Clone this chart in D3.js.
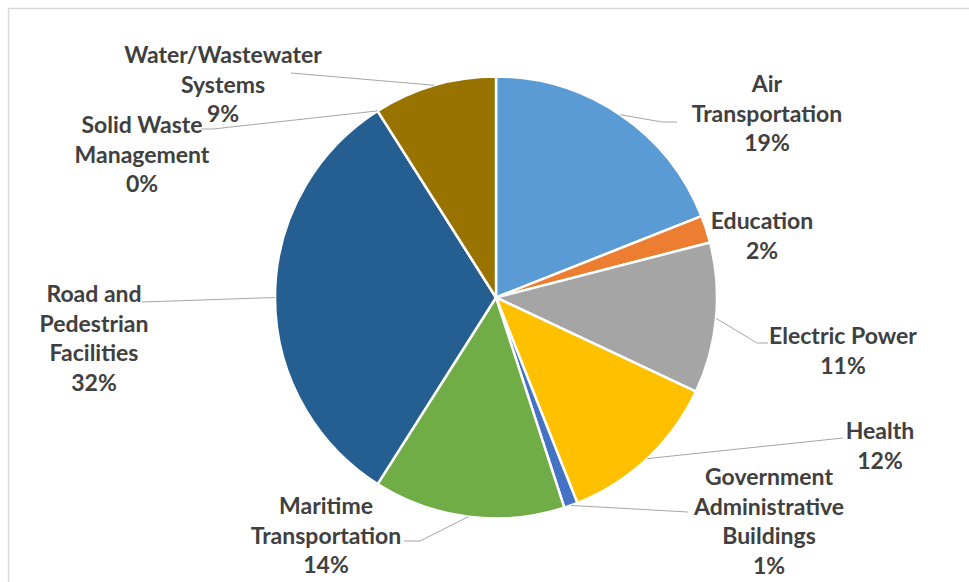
<!DOCTYPE html>
<html>
<head>
<meta charset="utf-8">
<script src="https://cdn.jsdelivr.net/npm/d3@7"></script>
<style>
  html, body { margin: 0; padding: 0; background: #ffffff; }
  svg { display: block; }
</style>
</head>
<body>
<svg id="chart" width="969" height="582"></svg>
<script>
// Share of funding by infrastructure sector (percent)
const categories = [
  "Air Transportation",
  "Education",
  "Electric Power",
  "Health",
  "Government Administrative Buildings",
  "Maritime Transportation",
  "Road and Pedestrian Facilities",
  "Solid Waste Management",
  "Water/Wastewater Systems"
];
const values = [19, 2, 11, 12, 1, 14, 32, 0, 9];
const colors = ["#5B9BD5", "#ED7D31", "#A5A5A5", "#FFC000", "#4472C4",
                "#70AD47", "#255E91", "#9E480E", "#997300"];

// How each category name wraps onto lines in its label
const labelLines = [
  ["Air", "Transportation"],
  ["Education"],
  ["Electric Power"],
  ["Health"],
  ["Government", "Administrative", "Buildings"],
  ["Maritime", "Transportation"],
  ["Road and", "Pedestrian", "Facilities"],
  ["Solid Waste", "Management"],
  ["Water/Wastewater", "Systems"]
];

// Label placement: centre x and first-line centre y, plus leader path toward the text
const labelLayout = [
  { x: 767, y: 84,  leader: [[662, 122], [677, 122]] },
  { x: 762, y: 221, leader: null },
  { x: 843, y: 336, leader: [[757, 343], [768, 343]] },
  { x: 880, y: 431, leader: [[843, 438]] },
  { x: 769, y: 477, leader: [[688, 512]] },
  { x: 326, y: 506, leader: [[420, 541], [404, 541]] },
  { x: 94,  y: 294, leader: [[142, 302]] },
  { x: 142, y: 125, leader: [[213, 129], [201, 129]] },
  { x: 223, y: 55,  leader: [[291, 73]] }
];

const cx = 496, cy = 297.5, radius = 221;
const lineHeight = 29.5;

const svg = d3.select("#chart");

// Chart area frame
svg.append("rect")
  .attr("x", 8.5).attr("y", 8.5)
  .attr("width", 1000).attr("height", 700)
  .attr("fill", "#ffffff")
  .attr("stroke", "#d9d9d9")
  .attr("stroke-width", 1.5);

const pie = d3.pie().sort(null).value(d => d)(values);
const arc = d3.arc().innerRadius(0).outerRadius(radius);

const g = svg.append("g").attr("transform", `translate(${cx},${cy})`);

g.selectAll("path.slice")
  .data(pie)
  .join("path")
  .attr("class", "slice")
  .attr("d", arc)
  .attr("fill", (d, i) => colors[i])
  .attr("stroke", "#ffffff")
  .attr("stroke-width", 2.5)
  .attr("stroke-linejoin", "round");

// Leader lines from each slice's outer-edge midpoint to its label
const line = d3.line();
pie.forEach((d, i) => {
  const lay = labelLayout[i];
  if (!lay.leader) return;
  const mid = (d.startAngle + d.endAngle) / 2;
  const start = [cx + radius * Math.sin(mid), cy - radius * Math.cos(mid)];
  svg.append("path")
    .attr("d", line([start, ...lay.leader]))
    .attr("fill", "none")
    .attr("stroke", "#a6a6a6")
    .attr("stroke-width", 1);
});

// Data labels: category name followed by the percentage
const fmt = d3.format(".0f");
pie.forEach((d, i) => {
  const lay = labelLayout[i];
  const lines = labelLines[i].concat([fmt(values[i]) + "%"]);
  const t = svg.append("text")
    .attr("text-anchor", "middle")
    .attr("font-family", "Lato, 'Open Sans', sans-serif")
    .attr("font-weight", 700)
    .attr("font-size", 23)
    .attr("fill", "#404040");
  lines.forEach((s, k) => {
    t.append("tspan")
      .attr("x", lay.x)
      .attr("y", lay.y + k * lineHeight + 8)
      .text(s);
  });
});
</script>
</body>
</html>
